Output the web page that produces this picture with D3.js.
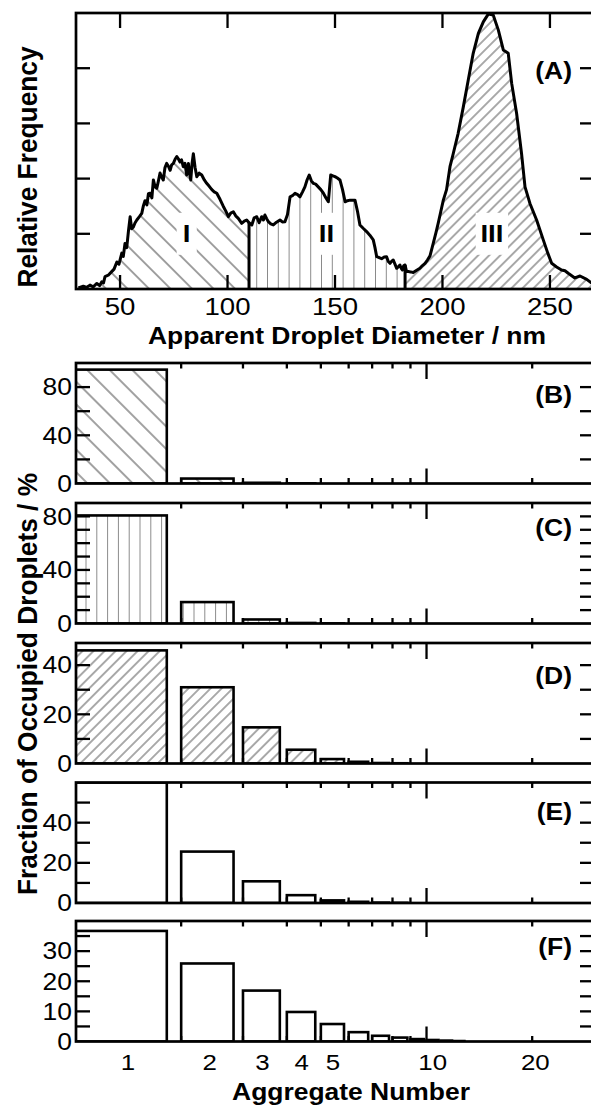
<!DOCTYPE html>
<html>
<head>
<meta charset="utf-8">
<script src="https://cdn.jsdelivr.net/npm/d3@7"></script>
<style>
  html, body { margin: 0; padding: 0; background: #fff; }
  svg { display: block; }
  text { font-family: "Liberation Sans", Arial, Helvetica, sans-serif; fill: #000; }
</style>
</head>
<body>
<svg id="fig" width="591" height="1108"></svg>
<script>
// ---------- Panel A: apparent droplet diameter distribution ----------
const diameters = [
  30.6, 32.9, 34.5, 36.0, 37.5, 39.2, 40.5, 41.5, 42.3, 43.0, 44.5, 46.1, 47.2, 48.5, 49.5,
  50.8, 51.5, 52.3, 53.1, 53.9, 54.7, 55.4, 56.2, 57.0, 57.8, 59.0, 60.1, 60.8, 61.6, 62.5,
  63.2, 64.0, 64.8, 65.5, 66.3, 67.1, 67.8, 68.6, 69.4, 70.1, 70.9, 71.7, 72.5, 73.3, 74.0,
  74.8, 75.6, 76.4, 77.1, 77.9, 78.6, 79.4, 80.2, 81.0, 81.8, 82.3, 82.9, 83.5, 84.1, 84.9,
  85.7, 86.8, 88.0, 89.2, 90.3, 91.5, 92.7, 93.8, 95.0, 96.5, 98.0, 99.2, 100.4, 101.5, 102.7,
  103.8, 105.0, 106.6, 107.8, 108.9, 110.0, 111.3, 112.4, 113.6, 114.7, 115.9, 116.7, 117.4, 118.2, 119.0,
  120.1, 121.3, 122.8, 124.4, 125.5, 126.7, 127.9, 129.1, 130.2, 131.4, 132.6, 133.7, 134.9, 136.0, 137.0,
  138.0, 139.0, 139.9, 141.0, 142.2, 143.4, 144.6, 145.8, 146.9, 147.4, 148.0, 149.0, 150.0, 151.1, 152.3,
  153.5, 154.7, 155.8, 157.0, 158.2, 159.3, 160.5, 161.6, 163.1, 164.7, 166.2, 167.8, 168.6, 169.4, 170.5,
  171.7, 172.9, 174.0, 174.8, 175.6, 176.3, 177.1, 177.9, 178.7, 179.4, 180.2, 180.8, 181.4, 182.0, 182.6,
  183.3, 184.1, 185.2, 186.4, 188.0, 189.5, 190.7, 191.9, 193.0, 194.2, 195.7, 197.0, 198.0, 199.2, 200.4,
  201.9, 203.5, 205.0, 207.3, 209.7, 212.0, 214.3, 216.7, 219.0, 221.3, 223.6, 226.0, 228.3, 230.6, 232.2,
  234.5, 236.8, 238.4, 240.7, 243.8, 246.9, 249.0, 250.8, 253.1, 255.4, 257.0, 258.5, 261.6, 264.0, 267.1,
  269.1, 270.5
];
const frequencies = [
  0.004, 0.010, 0.006, 0.014, 0.008, 0.020, 0.012, 0.026, 0.022, 0.045, 0.050, 0.063, 0.072, 0.098, 0.090,
  0.130, 0.118, 0.165, 0.150, 0.210, 0.262, 0.218, 0.225, 0.240, 0.250, 0.262, 0.274, 0.300, 0.320, 0.305,
  0.345, 0.347, 0.330, 0.395, 0.370, 0.365, 0.390, 0.420, 0.405, 0.395, 0.440, 0.455, 0.445, 0.430, 0.450,
  0.455, 0.470, 0.480, 0.472, 0.460, 0.468, 0.443, 0.455, 0.413, 0.455, 0.420, 0.395, 0.455, 0.490, 0.440,
  0.407, 0.420, 0.413, 0.395, 0.383, 0.372, 0.360, 0.352, 0.347, 0.325, 0.300, 0.282, 0.262, 0.275, 0.280,
  0.265, 0.256, 0.238, 0.246, 0.250, 0.240, 0.232, 0.258, 0.262, 0.240, 0.262, 0.250, 0.268, 0.255, 0.244,
  0.236, 0.232, 0.242, 0.250, 0.243, 0.244, 0.270, 0.334, 0.338, 0.347, 0.342, 0.334, 0.352, 0.370, 0.395,
  0.413, 0.392, 0.383, 0.380, 0.370, 0.360, 0.347, 0.330, 0.316, 0.360, 0.413, 0.410, 0.407, 0.402, 0.395,
  0.360, 0.316, 0.320, 0.322, 0.322, 0.322, 0.280, 0.232, 0.220, 0.208, 0.195, 0.178, 0.150, 0.117, 0.114,
  0.110, 0.116, 0.117, 0.100, 0.093, 0.100, 0.105, 0.090, 0.075, 0.080, 0.087, 0.075, 0.069, 0.085, 0.087,
  0.063, 0.063, 0.062, 0.060, 0.068, 0.075, 0.085, 0.093, 0.105, 0.120, 0.165, 0.205, 0.238, 0.280, 0.322,
  0.360, 0.443, 0.490, 0.564, 0.660, 0.757, 0.854, 0.926, 0.968, 0.996, 0.993, 0.938, 0.866, 0.854, 0.745,
  0.636, 0.490, 0.370, 0.310, 0.250, 0.178, 0.130, 0.093, 0.080, 0.069, 0.066, 0.057, 0.040, 0.047, 0.035,
  0.023, 0.018
];
const regionBounds = [110.0, 182.6];
const regionNames = ["I", "II", "III"];
const regionLabelDiameters = [81, 146, 223];
const regionLabelLevel = 0.2;
const diameterTicks = [50, 100, 150, 200, 250];
const frequencyTicks = [0.2, 0.4, 0.6, 0.8];

// ---------- Panels B–F: aggregate number distributions ----------
const aggregateNumbers = [1, 2, 3, 4, 5, 6, 7, 8, 9, 10, 11, 12];
const fractionB = [94.5, 4.1, 0.6, 0.1];
const fractionC = [80.7, 16.0, 3.0, 0.4, 0.1];
const fractionD = [46.0, 31.0, 14.7, 5.6, 1.8, 0.7, 0.2, 0.1];
const fractionE = [60.0, 25.6, 10.8, 3.9, 1.3, 0.6, 0.2, 0.1];
const fractionF = [36.7, 25.9, 16.9, 9.8, 5.8, 3.1, 1.9, 1.3, 0.8, 0.5, 0.3, 0.15];
const panelLetters = ["(B)", "(C)", "(D)", "(E)", "(F)"];
const fractionMax = [100, 90, 49, 60, 40];
const fractionTicks = [
  [20, 40, 60, 80],
  [10, 20, 30, 40, 50, 60, 70, 80],
  [10, 20, 30, 40],
  [10, 20, 30, 40, 50],
  [5, 10, 15, 20, 25, 30, 35]
];
const fractionTickLabels = [
  [0, 40, 80],
  [0, 40, 80],
  [0, 20, 40],
  [0, 20, 40],
  [0, 10, 20, 30]
];
const aggregateMinorTicks = [2, 3, 4, 5, 6, 7, 8, 9, 20];
const aggregateMajorTicks = [10];
const aggregateLabels = [1, 2, 3, 4, 5, 10, 20];

// ---------- drawing ----------
const svg = d3.select("#fig");
svg.append("rect").attr("width", 591).attr("height", 1108).attr("fill", "#fff");
const defs = svg.append("defs");

const SX = 1.15;           // horizontal glyph stretch of the figure lettering
const FRAME_W = 2.7;
const TICK_W = 2.3;
const LEFT = 76, RIGHT = 594;

function hatch(id, spacing, angle, color, width, offset) {
  const p = defs.append("pattern")
    .attr("id", id)
    .attr("patternUnits", "userSpaceOnUse")
    .attr("x", offset || 0)
    .attr("width", spacing).attr("height", spacing)
    .attr("patternTransform", `rotate(${angle})`);
  p.append("rect").attr("width", spacing).attr("height", spacing).attr("fill", "#fff");
  p.append("line")
    .attr("x1", spacing / 2).attr("x2", spacing / 2)
    .attr("y1", -1).attr("y2", spacing + 1)
    .attr("stroke", color).attr("stroke-width", width);
}
hatch("backA", 15.2, -45, "#444", 1, 0);
hatch("vertA", 10.8, 0, "#8a8a8a", 1, 2.9);
hatch("fwdA", 7.8, 45, "#555", 1, 0);
hatch("backB", 16.0, -45, "#444", 1, 0);
hatch("vertB", 10.8, 0, "#8a8a8a", 1, 5.0);
hatch("fwdB", 7.8, 45, "#555", 1, 0);

function hText(g, str, x, y, size, weight, anchor, dy) {
  return g.append("text")
    .attr("transform", `translate(${x},${y}) scale(${SX},1)`)
    .attr("text-anchor", anchor || "middle")
    .attr("font-size", size)
    .attr("font-weight", weight || "normal")
    .attr("dy", dy || null)
    .text(str);
}
function vText(g, str, x, y, size) {
  return g.append("text")
    .attr("transform", `translate(${x},${y}) rotate(-90) scale(1,1.06)`)
    .attr("text-anchor", "middle")
    .attr("font-size", size)
    .attr("font-weight", "bold")
    .text(str);
}
function tick(g, x1, y1, x2, y2) {
  g.append("line").attr("x1", x1).attr("y1", y1).attr("x2", x2).attr("y2", y2)
    .attr("stroke", "#000").attr("stroke-width", TICK_W);
}

// ----- Panel A -----
const aTop = 13, aBottom = 289;
const xA = d3.scaleLinear().domain([29.5, 270.5]).range([LEFT, RIGHT]);
const yA = d3.scaleLinear().domain([0, 1]).range([aBottom, aTop]);
const gA = svg.append("g");
const pts = diameters.map((d, i) => [d, frequencies[i]]);

const regionEdges = [diameters[0], regionBounds[0], regionBounds[1], diameters[diameters.length - 1]];
const regionFills = ["url(#backA)", "url(#vertA)", "url(#fwdA)"];
const area = d3.area().x(d => xA(d[0])).y0(yA(0)).y1(d => yA(d[1]));
regionFills.forEach((fill, i) => {
  const cid = "clipRegion" + i;
  defs.append("clipPath").attr("id", cid).append("rect")
    .attr("x", xA(regionEdges[i])).attr("y", aTop)
    .attr("width", xA(regionEdges[i + 1]) - xA(regionEdges[i]))
    .attr("height", aBottom - aTop);
  gA.append("path").datum(pts).attr("d", area)
    .attr("fill", fill).attr("clip-path", `url(#${cid})`);
});

// region dividers
regionBounds.forEach(b => {
  const idx = diameters.indexOf(b);
  gA.append("line")
    .attr("x1", xA(b)).attr("x2", xA(b))
    .attr("y1", yA(0)).attr("y2", yA(frequencies[idx]))
    .attr("stroke", "#000").attr("stroke-width", 3);
});

// region labels on white boxes
regionNames.forEach((name, i) => {
  const cx = xA(regionLabelDiameters[i]), cy = yA(regionLabelLevel);
  const box = gA.append("rect").attr("fill", "#fff");
  const t = hText(gA, name, cx, cy, 24, "bold", "middle", "0.36em");
  const w = t.node().getBBox().width * SX * 0.8 + 14;
  box.attr("x", cx - w / 2).attr("y", cy - 21).attr("width", w).attr("height", 42);
});

// curve
gA.append("path").datum(pts)
  .attr("d", d3.line().x(d => xA(d[0])).y(d => yA(d[1])))
  .attr("fill", "none").attr("stroke", "#000").attr("stroke-width", 3)
  .attr("stroke-linejoin", "round");

// frame + ticks
gA.append("rect").attr("x", LEFT).attr("y", aTop).attr("width", RIGHT - LEFT).attr("height", aBottom - aTop)
  .attr("fill", "none").attr("stroke", "#000").attr("stroke-width", FRAME_W);
diameterTicks.forEach(v => {
  tick(gA, xA(v), aTop, xA(v), aTop + 15);
  tick(gA, xA(v), aBottom, xA(v), aBottom - 14);
  hText(gA, String(v), xA(v), 315, 24);
});
frequencyTicks.forEach(v => {
  tick(gA, LEFT, yA(v), LEFT + 14, yA(v));
  tick(gA, RIGHT, yA(v), RIGHT - 14, yA(v));
});
hText(gA, "(A)", 572, 71, 23, "bold", "end", "0.36em");
vText(gA, "Relative Frequency", 37, 167, 26.3);
hText(gA, "Apparent Droplet Diameter / nm", 347, 344, 23, "bold");

// ----- Panels B–F -----
const xN = d3.scaleLog().domain([1, 30]).range([75.5, RIGHT]);
const panelTops = [363, 503, 643, 782.5, 921];
const panelHeight = 120.5;
const letterOffsets = [32, 25, 33, 29, 26];
const panelSeries = [fractionB, fractionC, fractionD, fractionE, fractionF];
const panelFills = ["url(#backB)", "url(#vertB)", "url(#fwdB)", "#fff", "#fff"];
const BAR_SPAN = 0.82;

panelSeries.forEach((series, p) => {
  const top = panelTops[p], bottom = top + panelHeight;
  const y = d3.scaleLinear().domain([0, fractionMax[p]]).range([bottom, top]);
  const g = svg.append("g");
  const cid = "clipPanel" + p;
  defs.append("clipPath").attr("id", cid).append("rect")
    .attr("x", LEFT).attr("y", top).attr("width", RIGHT - LEFT).attr("height", panelHeight);

  g.append("g").attr("clip-path", `url(#${cid})`)
    .selectAll("rect").data(series).join("rect")
    .attr("x", (d, i) => xN(aggregateNumbers[i]))
    .attr("width", (d, i) => xN(aggregateNumbers[i] + BAR_SPAN) - xN(aggregateNumbers[i]))
    .attr("y", d => y(d))
    .attr("height", d => bottom - y(d))
    .attr("fill", panelFills[p])
    .attr("stroke", "#000").attr("stroke-width", 2.6);

  g.append("rect").attr("x", LEFT).attr("y", top).attr("width", RIGHT - LEFT).attr("height", panelHeight)
    .attr("fill", "none").attr("stroke", "#000").attr("stroke-width", FRAME_W);

  aggregateMinorTicks.forEach(v => {
    tick(g, xN(v), top, xN(v), top + 5.5);
    tick(g, xN(v), bottom, xN(v), bottom - 5.5);
  });
  aggregateMajorTicks.forEach(v => {
    tick(g, xN(v), top, xN(v), top + 16);
    tick(g, xN(v), bottom, xN(v), bottom - 15);
  });
  fractionTicks[p].forEach(v => {
    tick(g, LEFT, y(v), LEFT + 14, y(v));
    tick(g, RIGHT, y(v), RIGHT - 14, y(v));
  });
  fractionTickLabels[p].forEach(v => {
    hText(g, String(v), 72, y(v), 23, "normal", "end", "0.36em");
  });
  hText(g, panelLetters[p], 572, top + letterOffsets[p], 23, "bold", "end", "0.36em");
});

const gX = svg.append("g");
aggregateLabels.forEach(v => {
  hText(gX, String(v), xN(v + BAR_SPAN / 2), 1070, 22.5);
});
hText(gX, "Aggregate Number", 351, 1100, 23, "bold");
vText(gX, "Fraction of Occupied Droplets / %", 37, 684, 26.3);
</script>
</body>
</html>
